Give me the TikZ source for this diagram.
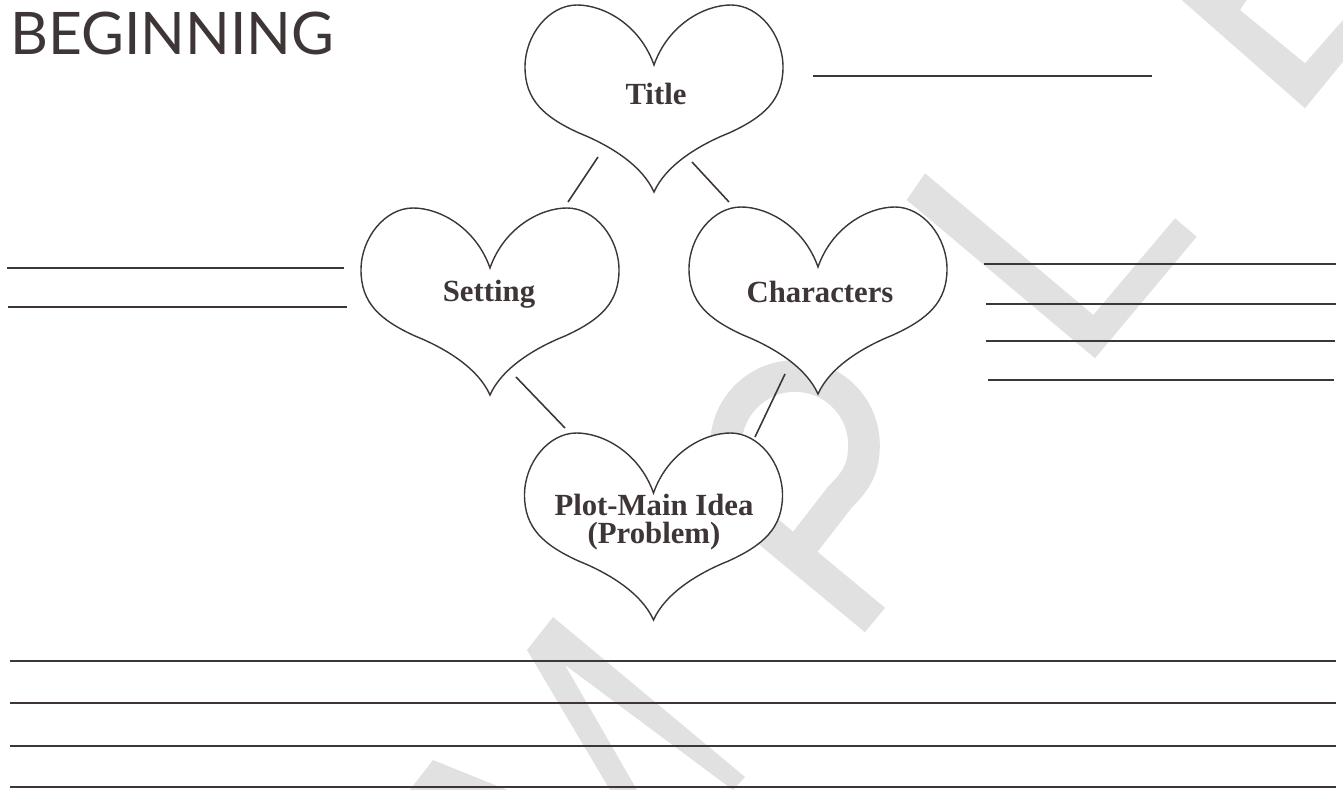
\documentclass[tikz,border=0pt]{standalone}
\usepackage{fontspec}
\setmainfont{Liberation Serif}
\newfontfamily\headfont{Lato}
\definecolor{ink}{RGB}{62,53,54}
\definecolor{wmgray}{RGB}{225,225,225}

\tikzset{
  heart/.pic={
    \draw[outline] (0,60) .. controls (-14,20) and (-50,0) .. (-77,0)
      .. controls (-105,0) and (-129,30) .. (-129,62)
      .. controls (-129,95) and (-110,112) .. (-75,128)
      .. controls (-45,140) and (-12,160) .. (0,187)
      .. controls (12,160) and (45,140) .. (75,128)
      .. controls (110,112) and (129,95) .. (129,62)
      .. controls (129,30) and (105,0) .. (77,0)
      .. controls (50,0) and (14,20) .. (0,60) -- cycle;
  }
}

\begin{document}
\begin{tikzpicture}[x=0.02cm,y=-0.02cm,
  outline/.style={draw=ink,fill=white,line width=0.8pt},
  rule/.style={draw=ink,line width=1.1pt},
  link/.style={draw=ink,line width=0.9pt},
  tag/.style={font=\fontsize{17.5}{16}\selectfont\bfseries,text=ink,inner sep=0pt},
  heading/.style={font=\headfont\fontsize{33.4}{40}\selectfont,text=ink,inner sep=0pt},
  stamp/.style={fill=wmgray,draw=none},
  wmstroke/.style={draw=wmgray,line width=18pt},
]
\clip (0,0) rectangle (1343,790);
\fill[stamp] (433,760)--(532,800)--(402,800)--cycle;
\fill[stamp] (527,650)--(553,617)--(745,777)--(733,790)--(565,665)--(637,790)--(610,790)--cycle;
\draw[wmstroke] (700,475)--(875,620);
\draw[wmstroke] (705,480)--(726,445) .. controls (726,407) and (757,376) .. (795,376)
  .. controls (833,376) and (864,407) .. (864,445) .. controls (864,470) and (855,482) .. (840,497)--(795,555);
\fill[stamp] (906.7,200)--(925,173.3)--(1093.3,315)--(1175,218.3)--(1196.7,236.7)--(1095,358.3)--cycle;
\fill[stamp] (1181.7,0)--(1246.7,0)--(1240,10)--(1305,63.3)--(1343,20)--(1343,61.7)--(1305,108.3)--cycle;

\node[heading,anchor=base west] (head) at (10,55) {BEGINNING};

\draw[rule] (813,76)--(1152,76);
\draw[rule] (7,268)--(344,268);
\draw[rule] (8,307)--(347,307);
\foreach \y/\a/\b in {264/984/1336,304/986/1336,341/986/1335,380/988/1334}
  \draw[rule] (\a,\y)--(\b,\y);
\foreach \y in {661,703,746,787}
  \draw[rule] (10,\y)--(1336,\y);

\pic at (654,5) {heart};
\pic at (490,208) {heart};
\pic at (818,207) {heart};
\pic at (653.5,433) {heart};

\node[tag,anchor=base] (title) at (656,105) {Title};
\node[tag,anchor=base] (setting) at (489,302) {Setting};
\node[tag,anchor=base] (chars) at (820,303) {Characters};
\node[tag,align=center] (plot) at (654,522) {Plot-Main Idea\\(Problem)};

\coordinate (title-sw) at (598,157);
\coordinate (title-se) at (692,162);
\coordinate (setting-ne) at (568,202);
\coordinate (setting-s) at (516,377);
\coordinate (chars-nw) at (729,202);
\coordinate (chars-s) at (785,374);
\coordinate (plot-nw) at (565,428);
\coordinate (plot-ne) at (755,437);
\draw[link] (title-sw)--(setting-ne);
\draw[link] (title-se)--(chars-nw);
\draw[link] (setting-s)--(plot-nw);
\draw[link] (chars-s)--(plot-ne);
\end{tikzpicture}
\end{document}
